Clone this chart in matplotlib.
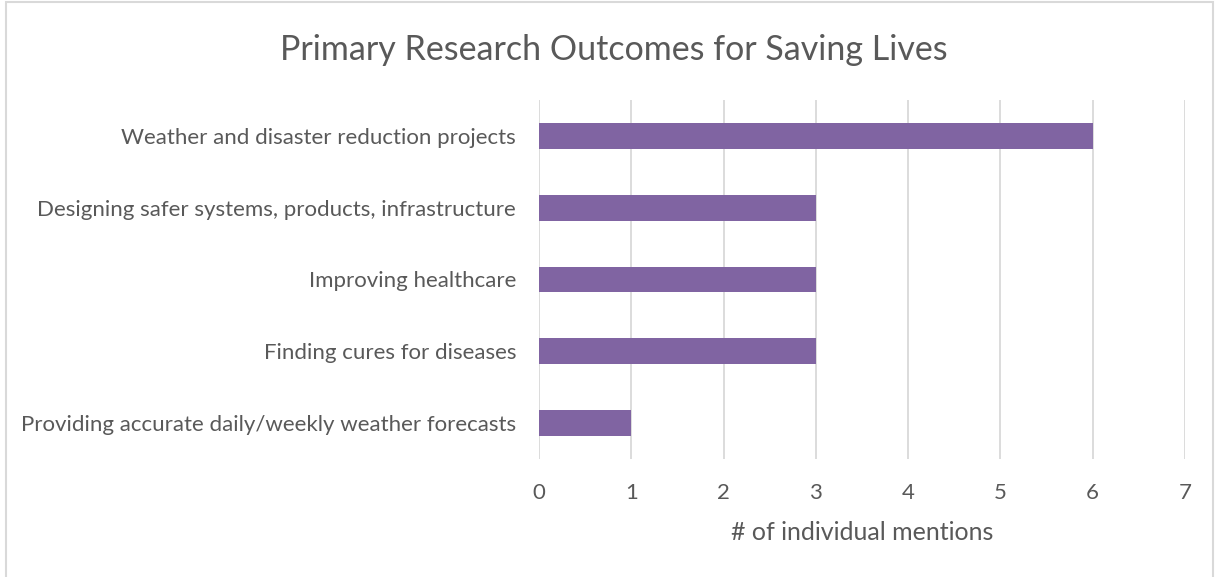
import matplotlib.pyplot as plt
from matplotlib.patches import Rectangle

plt.rcParams['font.family'] = ['Lato', 'DejaVu Sans']

# data, top to bottom as shown
categories = ['Weather and disaster reduction projects',
              'Designing safer systems, products, infrastructure',
              'Improving healthcare',
              'Finding cures for diseases',
              'Providing accurate daily/weekly weather forecasts']
mentions = [6, 3, 3, 3, 1]
xticks = [0, 1, 2, 3, 4, 5, 6, 7]

text_col = '#595959'
grid_col = '#d9d9d9'
bar_col = '#8064a2'

fig = plt.figure(figsize=(12.17, 5.77), dpi=100)
ax = fig.add_axes([0.4429, 0.2045, 0.5308, 0.6222])

ypos = list(range(len(categories)))[::-1]
ax.barh(ypos, mentions, height=0.36, color=bar_col, zorder=3)

ax.set_xlim(0, 7)
ax.set_ylim(-0.5, len(categories) - 0.5)
ax.set_xticks(xticks)
ax.set_yticks(ypos)
ax.set_yticklabels(categories)
ax.grid(axis='x', color=grid_col, linewidth=1.3, zorder=0)
ax.tick_params(length=0, labelsize=16, colors=text_col)
ax.tick_params(axis='x', pad=17)
ax.tick_params(axis='y', pad=16.5)
for s in ax.spines.values():
    s.set_visible(False)

ax.set_xlabel('# of individual mentions', fontsize=18, color=text_col, labelpad=13)
fig.text(0.504, 0.914, 'Primary Research Outcomes for Saving Lives',
         fontsize=24.5, color=text_col, ha='center', va='center')

# chart border
fig.patches.append(Rectangle((0.005, -0.01), 0.992, 1.006, transform=fig.transFigure,
                             fill=False, edgecolor=grid_col, linewidth=1.5))

fig.savefig('out.png', dpi=100)
